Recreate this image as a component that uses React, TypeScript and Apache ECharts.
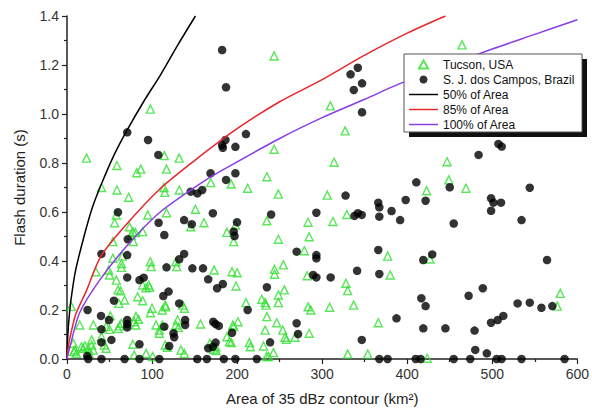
import React, { useEffect, useRef } from "react";
import * as echarts from "echarts";

// Tucson, USA (green triangles): [area km², flash duration s]
const tucson: [number, number][] = [
  [98, 1.02], [23, 0.82], [58.7, 0.79], [82, 0.76], [86.7, 0.775], [114.4, 0.83], [131.9, 0.82], [117, 0.775],
  [40.5, 0.7], [58.7, 0.69], [114, 0.7], [115, 0.68], [132, 0.69], [72.5, 0.66], [169, 0.72], [193, 0.714],
  [58, 0.588], [56, 0.556], [95, 0.588], [73.5, 0.54], [77.4, 0.52], [117, 0.597], [151, 0.611], [161, 0.556],
  [145.5, 0.54], [188, 0.517], [196, 0.479], [80.5, 0.516], [78, 0.479], [54, 0.479], [54, 0.411], [65, 0.42],
  [64, 0.39], [64, 0.374], [34, 0.356], [49, 0.363], [50, 0.343], [98, 0.397], [99, 0.377], [128, 0.397],
  [129, 0.377], [173, 0.363], [194, 0.356], [96, 0.302], [97, 0.293], [63, 0.278], [83, 0.254], [61, 0.227],
  [115.5, 0.22], [136, 0.22], [138, 0.207], [100, 0.207], [98, 0.189], [5, 0.215], [15, 0.139], [31, 0.139],
  [51, 0.176], [64, 0.146], [62, 0.135], [60, 0.125], [81, 0.173], [84, 0.162], [81, 0.139], [112, 0.139],
  [108.5, 0.105], [130, 0.159], [128, 0.139], [131, 0.129], [157, 0.143], [195, 0.139], [188, 0.091], [191, 0.071],
  [7.4, 0.064], [9.3, 0.037], [19, 0.044], [25, 0.044], [29, 0.057], [26, 0.023], [44, 0.057], [46, 0.044],
  [93, 0.023], [115.5, 0.057], [134, 0.037], [138, 0.023], [168, 0.064], [175, 0.05], [89, 0.52], [75.5, 0.505],
  [58, 0.322], [60, 0.282], [89, 0.302], [93, 0.291], [67.7, 0.241], [116, 0.213], [112, 0.2], [89, 0.238],
  [79, 0.152], [46, 0.132], [50, 0.121], [40.5, 0.091], [29, 0.078], [17, 0.05], [21, 0.054], [30.7, 0.037],
  [8, 0.03], [11, 0.023], [104.7, 0.139], [108.5, 0.118], [118, 0.048], [79, 0.016], [100.7, 0.01], [77.4, 0.06],
  [172.7, 0.04], [175.4, 0.034],
  [243.5, 1.237], [309.6, 1.033], [327, 0.931], [243.5, 0.856], [314, 0.803], [235, 0.744], [212.4, 0.697],
  [248.5, 0.673], [306, 0.669], [235, 0.564], [283.5, 0.558], [312.7, 0.561], [329, 0.59], [198, 0.547],
  [248.5, 0.489], [284.7, 0.499], [279, 0.442], [377, 0.42], [254.4, 0.384], [244, 0.366], [244, 0.346],
  [200, 0.352], [198.7, 0.298], [282.4, 0.34], [380, 0.343], [328, 0.309], [330, 0.279], [255.5, 0.282],
  [248.5, 0.261], [248.5, 0.23], [229, 0.244], [233, 0.23], [234, 0.22], [210.4, 0.23], [283.5, 0.213],
  [286.6, 0.2], [308.8, 0.211], [337, 0.22], [201, 0.152], [196, 0.132], [235, 0.173], [233, 0.118],
  [246.6, 0.148], [253.6, 0.118], [256.3, 0.089], [258, 0.08], [268, 0.089], [284.7, 0.105], [366, 0.148],
  [193.3, 0.067], [214.4, 0.067], [215.5, 0.05], [231, 0.053], [242.7, 0.026], [237, 0.01], [330, 0.02],
  [353.6, 0.02], [234.6, 0.01],
  [446.9, 0.805], [448.9, 0.731], [422.8, 0.687], [469, 0.697], [426.7, 0.408], [580, 0.268], [576.4, 0.216],
  [423.6, 0.003], [464.4, 1.282],
];

// S. J. dos Campos, Brazil (black dots)
const brazil: [number, number][] = [
  [182.4, 1.261], [187, 1.109], [70.8, 0.925], [95.3, 0.894], [107.4, 0.833], [186.3, 0.894], [182.4, 0.873],
  [183.2, 0.862], [198, 0.866], [168.8, 0.758], [187, 0.731], [198, 0.758], [145.5, 0.683], [153.3, 0.676],
  [159, 0.69], [333.4, 1.162], [341.9, 1.189], [337.2, 1.098], [346.9, 1.125], [346.9, 1.007], [210.4, 0.918],
  [59.9, 0.599], [107.7, 0.556], [114.4, 0.506], [137.7, 0.567], [146.7, 0.55], [171.5, 0.595], [196, 0.52],
  [197, 0.502], [71.5, 0.489], [70.8, 0.424], [40.5, 0.429], [70.8, 0.333], [85.2, 0.322], [90.2, 0.332],
  [117, 0.374], [131.9, 0.407], [137.7, 0.429], [147.4, 0.37], [159.9, 0.37], [166, 0.325], [176.5, 0.289],
  [183.2, 0.306], [119.4, 0.275], [113.2, 0.257], [55.2, 0.238], [24.2, 0.2], [40, 0.176], [49.4, 0.159],
  [70.8, 0.159], [70.8, 0.143], [70.8, 0.129], [40.5, 0.121], [52.2, 0.078], [40.5, 0.068], [85.2, 0.06],
  [114.4, 0.132], [138.9, 0.159], [138.9, 0.139], [125.2, 0.105], [126, 0.089], [120.2, 0.053], [171.9, 0.152],
  [174.7, 0.143], [178.5, 0.135], [194, 0.107], [171.5, 0.05], [166, 0.044], [174.7, 0.067], [131.9, 0.227],
  [23.7, 0.012], [24.9, 0], [40.5, 0], [67.7, 0], [85.2, 0], [108.5, 0], [153.2, 0], [164.5, 0], [184.4, 0],
  [327.5, 0.667], [240, 0.59], [293.2, 0.597], [199.9, 0.558], [338, 0.584], [341.9, 0.595], [346.5, 0.588],
  [366, 0.638], [367.2, 0.619], [367.2, 0.581], [381.6, 0.604], [391.7, 0.567], [398.2, 0.649], [270, 0.438],
  [293.2, 0.424], [293.2, 0.411], [366, 0.445], [289.4, 0.343], [293.2, 0.333], [310, 0.333], [341.1, 0.36],
  [367.2, 0.347], [235, 0.293], [212.4, 0.2], [387.4, 0.166], [270, 0.146], [271.7, 0.102], [238.8, 0.068],
  [346.6, 0.078], [198, 0], [223.2, 0], [367.2, 0], [376.9, 0],
  [507.2, 0.878], [511.1, 0.867], [483.9, 0.833], [410.7, 0.721], [450, 0.701], [544.1, 0.699], [421.6, 0.646],
  [498.6, 0.656], [501.4, 0.638], [510.3, 0.638], [498.6, 0.605], [454.7, 0.553], [534.4, 0.567], [418.9, 0.404],
  [429.4, 0.427], [564.4, 0.404], [416.6, 0.248], [421.6, 0.216], [472.2, 0.258], [488.9, 0.289], [529.8, 0.227],
  [544.1, 0.23], [557.8, 0.209], [570.6, 0.216], [418.9, 0.125], [444.9, 0.125], [479.2, 0.116], [498.6, 0.148],
  [506.4, 0.159], [513, 0.176], [480, 0.037], [493.6, 0.023], [410, 0], [415.8, 0], [454.7, 0], [474.1, 0],
  [505.2, 0], [511, 0], [534.4, 0], [585, 0],
];

// Envelope curves
const area50: [number, number][] = [
  [0, 0], [1, 0.1], [2.5, 0.17], [5, 0.25], [10, 0.36], [20, 0.5], [30, 0.62], [40, 0.71], [55, 0.83],
  [70, 0.93], [90, 1.05], [110, 1.16], [130, 1.28], [151, 1.4],
];
const area85: [number, number][] = [
  [0, 0], [2, 0.06], [5, 0.11], [10, 0.18], [23, 0.28], [40, 0.42], [70, 0.55], [108, 0.69], [150, 0.81],
  [200, 0.94], [250, 1.05], [300, 1.14], [350, 1.24], [400, 1.33], [445, 1.4],
];
const area100: [number, number][] = [
  [0, 0], [3.5, 0.05], [15, 0.19], [38, 0.32], [70, 0.46], [108, 0.595], [163, 0.73], [190, 0.785],
  [250, 0.9], [300, 0.985], [350, 1.06], [392, 1.125], [450, 1.2], [500, 1.265], [550, 1.325], [600, 1.385],
];

const seriesNames = ["Tucson, USA", "S. J. dos Campos, Brazil", "50% of Area", "85% of Area", "100% of Area"];
const xTitle = "Area of 35 dBz contour (km\u00B2)";
const yTitle = "Flash duration (s)";

const FONT = "'Liberation Sans', Arial, sans-serif";
const TRI_ICON = "path://M4,0L8,7L0,7Z";
const LINE_ICON = "path://M0,0H40V2H0Z";

export default function App() {
  const ref = useRef<HTMLDivElement>(null);
  useEffect(() => {
    document.body.style.margin = "0";
    const chart = echarts.init(ref.current!, null, { renderer: "svg" });
    const axisCommon = {
      axisLine: { show: true, lineStyle: { color: "#222", width: 1.5 } },
      axisTick: { show: true, length: 5, lineStyle: { color: "#222", width: 1.2 } },
      minorTick: { show: true, splitNumber: 2, length: 3, lineStyle: { color: "#222", width: 1.2 } },
      splitLine: { show: false },
      nameTextStyle: { fontFamily: FONT, fontSize: 15, color: "#222" },
    };
    chart.setOption({
      animation: false,
      backgroundColor: "#fff",
      grid: { left: 67, right: 11, top: 16, bottom: 52 },
      xAxis: {
        type: "value",
        min: 0,
        max: 600,
        interval: 100,
        name: xTitle,
        nameLocation: "middle",
        nameGap: 32,
        ...axisCommon,
        axisLabel: { fontFamily: FONT, fontSize: 14, color: "#333", margin: 8 },
      },
      yAxis: {
        type: "value",
        min: 0,
        max: 1.4,
        interval: 0.2,
        name: yTitle,
        nameLocation: "middle",
        nameGap: 40,
        ...axisCommon,
        axisLabel: {
          fontFamily: FONT,
          fontSize: 14,
          color: "#333",
          margin: 8,
          formatter: (v: number) => v.toFixed(1),
        },
      },
      legend: {
        orient: "vertical",
        left: 409,
        top: 57,
        padding: 0,
        itemGap: 0,
        itemWidth: 29,
        itemHeight: 8,
        symbolKeepAspect: true,
        z: 10,
        data: [
          { name: seriesNames[0], icon: TRI_ICON },
          { name: seriesNames[1], icon: "circle" },
          { name: seriesNames[2], icon: LINE_ICON },
          { name: seriesNames[3], icon: LINE_ICON },
          { name: seriesNames[4], icon: LINE_ICON },
        ],
        textStyle: { fontFamily: FONT, fontSize: 12, color: "#111", lineHeight: 15 },
      },
      graphic: [
        { type: "rect", z: 5, shape: { x: 409, y: 59, width: 178, height: 78 }, style: { fill: "#111" } },
        {
          type: "rect",
          z: 6,
          shape: { x: 404, y: 54, width: 178, height: 78 },
          style: { fill: "#fff", stroke: "#555", lineWidth: 1 },
        },
      ],
      series: [
        {
          name: seriesNames[0],
          type: "scatter",
          data: tucson,
          symbol: "triangle",
          symbolSize: 8,
          itemStyle: { color: "rgba(255,255,255,0)", borderColor: "#2fe02f", borderWidth: 1.4 },
          z: 2,
        },
        {
          name: seriesNames[1],
          type: "scatter",
          data: brazil,
          symbol: "circle",
          symbolSize: 8.5,
          itemStyle: { color: "#000" },
          z: 3,
        },
        {
          name: seriesNames[2],
          type: "line",
          data: area50,
          symbol: "none",
          smooth: 0.3,
          lineStyle: { color: "#000", width: 1.5 },
          itemStyle: { color: "#000" },
          z: 4,
        },
        {
          name: seriesNames[3],
          type: "line",
          data: area85,
          symbol: "none",
          smooth: 0.3,
          lineStyle: { color: "#e8262b", width: 1.5 },
          itemStyle: { color: "#e8262b" },
          z: 4,
        },
        {
          name: seriesNames[4],
          type: "line",
          data: area100,
          symbol: "none",
          smooth: 0.3,
          lineStyle: { color: "#8a3de6", width: 1.5 },
          itemStyle: { color: "#8a3de6" },
          z: 4,
        },
      ],
    });
    return () => chart.dispose();
  }, []);
  return <div ref={ref} style={{ position: "absolute", left: 0, top: 0, width: 592, height: 411 }} />;
}
